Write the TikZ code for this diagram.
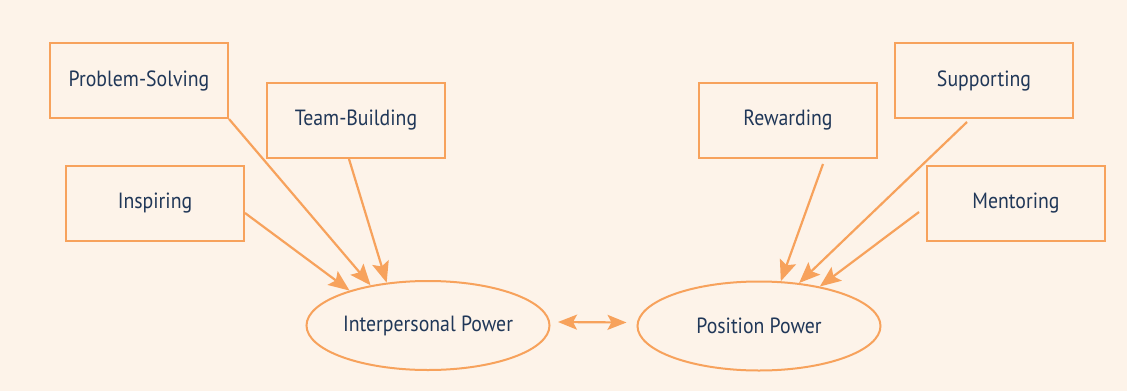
\documentclass[tikz,border=0pt]{standalone}
\usepackage{fontspec}
\setmainfont{PT Sans}[FakeStretch=0.9]
\usetikzlibrary{arrows.meta,shapes.geometric}
\definecolor{bg}{RGB}{253,243,233}
\definecolor{org}{RGB}{247,162,92}
\definecolor{txt}{RGB}{32,55,88}
\begin{document}
\begin{tikzpicture}[x=1pt,y=-1pt,
  box/.style={draw=org,line width=2pt,minimum width=178pt,minimum height=75pt,inner sep=0pt,text=txt,font=\fontsize{22}{26}\selectfont},
  oval/.style={ellipse,draw=org,line width=2pt,minimum width=243pt,minimum height=89pt,inner sep=0pt,text=txt,font=\fontsize{22}{26}\selectfont},
  arr/.style={draw=org,line width=2.2pt,-{Stealth[length=21pt,width=17pt,inset=4pt]}},
  darr/.style={draw=org,line width=2.2pt,{Stealth[length=19pt,width=15pt,inset=4pt]}-{Stealth[length=19pt,width=15pt,inset=4pt]}}]
\fill[bg] (0,0) rectangle (1127,391);
\useasboundingbox (0,0) rectangle (1127,391);
\node[box] (ps) at (139,80.5) {Problem-Solving};
\node[box] (tb) at (356,120.5) {Team-Building};
\node[box] (in) at (155,203.5) {Inspiring};
\node[box] (rw) at (788,120.5) {Rewarding};
\node[box] (sp) at (984,80.5) {Supporting};
\node[box] (mt) at (1016,203.5) {Mentoring};
\node[oval] (ip) at (428,325.5) {Interpersonal Power};
\node[oval] (pp) at (759,326) {Position Power};
\draw[arr] (ps.south east) -- (ip.145);
\draw[arr] ([xshift=-7pt]tb.south) -- (ip.134);
\draw[arr] ([yshift=-9.5pt]in.east) -- (ip.156);
\draw[arr] ([shift={(35pt,-5pt)}]rw.south) -- (pp.64);
\draw[arr] ([shift={(-17pt,-3pt)}]sp.south) -- (pp.47);
\draw[arr] ([shift={(-7pt,-8.5pt)}]mt.west) -- (pp.33);
\draw[darr] ([shift={(7.5pt,3.5pt)}]ip.east) -- ([shift={(-10pt,3.5pt)}]pp.west);
\end{tikzpicture}
\end{document}
